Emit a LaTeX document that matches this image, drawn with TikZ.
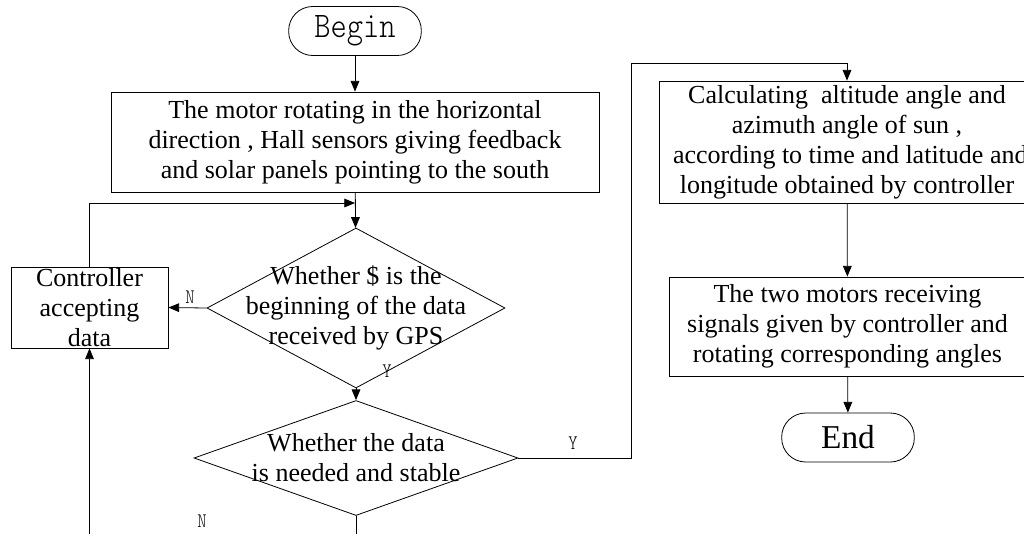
\documentclass[tikz,border=0pt]{standalone}
\usepackage{fontspec}
\setmainfont{Liberation Serif}
\newfontfamily\simfont{Latin Modern Mono Light}[FakeStretch=0.86]
\usetikzlibrary{shapes.geometric,arrows.meta}
\begin{document}
\begin{tikzpicture}[x=0.75pt,y=-0.75pt,
  every node/.style={inner sep=0pt},
  flowbox/.style={draw,line width=0.6pt,rectangle,align=center,font=\fontsize{19.5}{22.5}\selectfont},
  terminal/.style={draw,line width=0.6pt,rectangle,rounded corners=18pt,minimum width=99.5pt,minimum height=36.75pt},
  decision/.style={draw,diamond,line width=0.6pt},
  flowtext/.style={align=center,font=\fontsize{19.5}{22.5}\selectfont},
  arr/.style={draw,line width=0.6pt,-{Triangle[length=8pt,width=6.5pt]}},
  yn/.style={font=\simfont\fontsize{15.5}{15.5}\selectfont}]
\useasboundingbox (0,0) rectangle (1024,533);
\node[terminal,font=\simfont\fontsize{27}{27}\selectfont] (begin) at (355,31) {Begin};
\node[flowbox,minimum width=366pt,minimum height=75pt] (motor) at (355,142)
  {The motor rotating in the horizontal\\direction , Hall sensors giving feedback\\and solar panels pointing to the south};
\node[decision,minimum width=223.5pt,minimum height=120pt] (gps) at (356,308) {};
\node[flowtext] (gpstext) at (gps) {Whether \$ is the\\beginning of the data\\received by GPS};
\node[flowbox,minimum width=117.75pt,minimum height=60.75pt] (ctrl) at (89.5,307.5)
  {Controller\\accepting\\data};
\node[decision,minimum width=243pt,minimum height=86.25pt] (stable) at (356,458) {};
\node[flowtext] (stabletext) at (stable) {Whether the data\\is needed and stable};
\node[flowbox,minimum width=282pt,minimum height=91.5pt] (calc) at (847,142)
  {Calculating\ \ altitude angle and\\azimuth angle of sun ,\\\ according to time and latitude and\\longitude obtained by controller};
\node[flowbox,minimum width=267pt,minimum height=74.25pt] (motors) at (847.5,326.5)
  {The two motors receiving\\signals given by controller and\\rotating corresponding angles};
\node[terminal,font=\fontsize{25}{25}\selectfont] (end) at (848,437.5) {End};
\coordinate (merge) at (355,203);
\coordinate (ybend) at (631,63);
\draw[arr] (begin) -- (motor);
\draw[arr] (motor) -- (gps);
\draw[arr] (ctrl.north) |- (merge);
\draw[arr] (gps.west) -- (ctrl.east);
\draw[arr] (gps.south) -- (stable.north);
\draw[arr] (stable.east) -| (ybend) -| (calc.north);
\draw[arr] (calc) -- (motors);
\draw[arr] (motors) -- (end);
\draw[arr] (stable.south) -- ++(0,40) -| (ctrl.south);
\node[yn] (gpsno) at (190,297) {N};
\node[yn] (gpsyes) at (387,371) {Y};
\node[yn] (stableyes) at (573,443) {Y};
\node[yn] (stableno) at (202,521) {N};
\end{tikzpicture}
\end{document}
